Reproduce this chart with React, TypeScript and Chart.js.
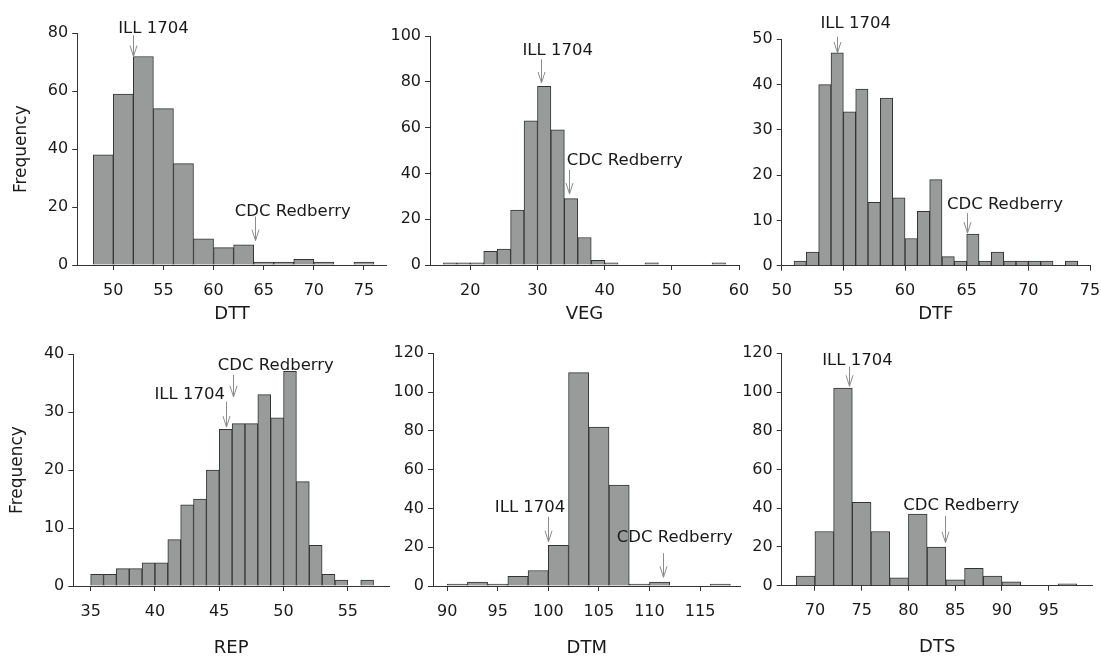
import { useEffect, useRef } from "react";
import { Chart, registerables } from "chart.js";
Chart.register(...registerables);

// ---------- data ----------
const dttCenters = [49, 51, 53, 55, 57, 59, 61, 63, 65, 67, 69, 71, 73, 75];
const dttCounts = [38, 59, 72, 54, 35, 9, 6, 7, 1, 1, 2, 1, 0, 1];
const dttXTicks = [50, 55, 60, 65, 70, 75];
const dttYTicks = [0, 20, 40, 60, 80];

const vegCenters = [17, 19, 21, 23, 25, 27, 29, 31, 33, 35, 37, 39, 41, 43, 45, 47, 49, 51, 53, 55, 57];
const vegCounts = [1, 1, 1, 6, 7, 24, 63, 78, 59, 29, 12, 2, 1, 0, 0, 1, 0, 0, 0, 0, 1];
const vegXTicks = [20, 30, 40, 50, 60];
const vegYTicks = [0, 20, 40, 60, 80, 100];

const dtfCenters = [51.5, 52.5, 53.5, 54.5, 55.5, 56.5, 57.5, 58.5, 59.5, 60.5, 61.5, 62.5, 63.5, 64.5, 65.5, 66.5, 67.5, 68.5, 69.5, 70.5, 71.5, 72.5, 73.5];
const dtfCounts = [1, 3, 40, 47, 34, 39, 14, 37, 15, 6, 12, 19, 2, 1, 7, 1, 3, 1, 1, 1, 1, 0, 1];
const dtfXTicks = [50, 55, 60, 65, 70, 75];
const dtfYTicks = [0, 10, 20, 30, 40, 50];

const repCenters = [35.5, 36.5, 37.5, 38.5, 39.5, 40.5, 41.5, 42.5, 43.5, 44.5, 45.5, 46.5, 47.5, 48.5, 49.5, 50.5, 51.5, 52.5, 53.5, 54.5, 55.5, 56.5];
const repCounts = [2, 2, 3, 3, 4, 4, 8, 14, 15, 20, 27, 28, 28, 33, 29, 37, 18, 7, 2, 1, 0, 1];
const repXTicks = [35, 40, 45, 50, 55];
const repYTicks = [0, 10, 20, 30, 40];

const dtmCenters = [91, 93, 95, 97, 99, 101, 103, 105, 107, 109, 111, 113, 115, 117];
const dtmCounts = [1, 2, 1, 5, 8, 21, 110, 82, 52, 1, 2, 0, 0, 1];
const dtmXTicks = [90, 95, 100, 105, 110, 115];
const dtmYTicks = [0, 20, 40, 60, 80, 100, 120];

const dtsCenters = [69, 71, 73, 75, 77, 79, 81, 83, 85, 87, 89, 91, 93, 95, 97];
const dtsCounts = [5, 28, 102, 43, 28, 4, 37, 20, 3, 9, 5, 2, 0, 0, 1];
const dtsXTicks = [70, 75, 80, 85, 90, 95];
const dtsYTicks = [0, 20, 40, 60, 80, 100, 120];

// annotation arrows: x = arrow x, tip = arrow tip value, top = arrow tail value, tx/ty = label anchor
type Note = { label: string; x: number; tip: number; top: number; tx: number; ty: number };
const dttNotes: Note[] = [
  { label: "ILL 1704", x: 52, tip: 72, top: 79.3, tx: 54, ty: 80 },
  { label: "CDC Redberry", x: 64.1, tip: 8.4, top: 16.7, tx: 67.9, ty: 16.9 },
];
const vegNotes: Note[] = [
  { label: "ILL 1704", x: 30.5, tip: 79.5, top: 89.8, tx: 33.0, ty: 91.7 },
  { label: "CDC Redberry", x: 34.7, tip: 31.0, top: 41.5, tx: 43.0, ty: 43.7 },
];
const dtfNotes: Note[] = [
  { label: "ILL 1704", x: 54.5, tip: 47, top: 50.6, tx: 56.0, ty: 52.4 },
  { label: "CDC Redberry", x: 65.05, tip: 7.2, top: 11.6, tx: 68.1, ty: 12.5 },
];
const repNotes: Note[] = [
  { label: "CDC Redberry", x: 46.1, tip: 32.6, top: 36.4, tx: 49.4, ty: 37.2 },
  { label: "ILL 1704", x: 45.5, tip: 27.4, top: 31.8, tx: 42.7, ty: 32.2 },
];
const dtmNotes: Note[] = [
  { label: "ILL 1704", x: 100.0, tip: 22.8, top: 35.7, tx: 98.2, ty: 38.0 },
  { label: "CDC Redberry", x: 111.3, tip: 4.5, top: 16.9, tx: 112.5, ty: 22.5 },
];
const dtsNotes: Note[] = [
  { label: "ILL 1704", x: 73.6, tip: 103.0, top: 113.1, tx: 74.55, ty: 114 },
  { label: "CDC Redberry", x: 83.9, tip: 22.2, top: 36.0, tx: 85.65, ty: 39.1 },
];

// ---------- layout / style ----------
const W = 1101;
const H = 656;
const Y_W = 60;
const X_H = 40;
const FONT = '"DejaVu Sans", "Liberation Sans", Arial, sans-serif';
const TEXT = "#1a1a1a";
const AXIS = "#333333";
const BAR_FILL = "#999b9b";
const BAR_EDGE = "#333333";
const ARROW = "#8c8c8c";

type Panel = {
  centers: number[];
  counts: number[];
  xTicks: number[];
  yTicks: number[];
  xTitle: string;
  yTitle?: string;
  notes: Note[];
  xMin: number;
  xMax: number;
  area: { l: number; r: number; t: number; b: number };
  titleDy: number;
};

const panels: Panel[] = [
  { centers: dttCenters, counts: dttCounts, xTicks: dttXTicks, yTicks: dttYTicks, xTitle: "DTT", yTitle: "Frequency", notes: dttNotes, xMin: 46.4, xMax: 77.3, area: { l: 77.2, r: 387, t: 33.3, b: 265 }, titleDy: 53.5 },
  { centers: vegCenters, counts: vegCounts, xTicks: vegXTicks, yTicks: vegYTicks, xTitle: "VEG", notes: vegNotes, xMin: 14, xMax: 60, area: { l: 430, r: 739, t: 36, b: 265 }, titleDy: 53.5 },
  { centers: dtfCenters, counts: dtfCounts, xTicks: dtfXTicks, yTicks: dtfYTicks, xTitle: "DTF", notes: dtfNotes, xMin: 50, xMax: 75, area: { l: 781.7, r: 1090, t: 39.3, b: 265.7 }, titleDy: 53.5 },
  { centers: repCenters, counts: repCounts, xTicks: repXTicks, yTicks: repYTicks, xTitle: "REP", yTitle: "Frequency", notes: repNotes, xMin: 33.65, xMax: 58.2, area: { l: 73.3, r: 389, t: 354, b: 586 }, titleDy: 66.5 },
  { centers: dtmCenters, counts: dtmCounts, xTicks: dtmXTicks, yTicks: dtmYTicks, xTitle: "DTM", notes: dtmNotes, xMin: 88.6, xMax: 119, area: { l: 433, r: 740.5, t: 353.3, b: 586 }, titleDy: 66.5 },
  { centers: dtsCenters, counts: dtsCounts, xTicks: dtsXTicks, yTicks: dtsYTicks, xTitle: "DTS", notes: dtsNotes, xMin: 66.45, xMax: 99.7, area: { l: 781.7, r: 1092.7, t: 353.3, b: 585.7 }, titleDy: 66.5 },
];

function makeChart(canvas: HTMLCanvasElement, p: Panel) {
  const counts = p.counts;
  const overlay = {
    id: "overlay",
    afterDraw(chart: any) {
      const ctx = chart.ctx as CanvasRenderingContext2D;
      const xs = chart.scales.x;
      const ys = chart.scales.y;
      const ca = chart.chartArea;
      ctx.save();
      for (const n of p.notes) {
        const x = Math.round(xs.getPixelForValue(n.x)) + 0.5;
        const tip = ys.getPixelForValue(n.tip);
        const top = ys.getPixelForValue(n.top);
        ctx.strokeStyle = ARROW;
        ctx.lineWidth = 1;
        ctx.beginPath();
        ctx.moveTo(x, top);
        ctx.lineTo(x, tip);
        ctx.moveTo(x - 3.5, tip - 11);
        ctx.lineTo(x, tip);
        ctx.lineTo(x + 3.5, tip - 11);
        ctx.stroke();
        ctx.fillStyle = TEXT;
        ctx.font = `16.5px ${FONT}`;
        ctx.textAlign = "center";
        ctx.textBaseline = "alphabetic";
        ctx.fillText(n.label, xs.getPixelForValue(n.tx), ys.getPixelForValue(n.ty));
      }
      ctx.fillStyle = TEXT;
      ctx.font = `18px ${FONT}`;
      ctx.textAlign = "center";
      ctx.textBaseline = "alphabetic";
      ctx.fillText(p.xTitle, (ca.left + ca.right) / 2, ca.bottom + p.titleDy);
      if (p.yTitle) {
        ctx.font = `17px ${FONT}`;
        ctx.textBaseline = "middle";
        ctx.translate(ca.left - 56, (ca.top + ca.bottom) / 2);
        ctx.rotate(-Math.PI / 2);
        ctx.fillText(p.yTitle, 0, 0);
      }
      ctx.restore();
    },
  };

  return new Chart(canvas, {
    type: "bar",
    data: {
      datasets: [
        {
          data: p.centers.map((x, i) => ({ x, y: counts[i] })) as any,
          backgroundColor: BAR_FILL,
          borderColor: BAR_EDGE,
          borderWidth: 1,
          borderSkipped: "start",
          barPercentage: 1,
          categoryPercentage: 1,
        } as any,
      ],
    },
    options: {
      responsive: false,
      animation: false,
      devicePixelRatio: 1,
      events: [],
      layout: {
        autoPadding: false,
        padding: { left: p.area.l - Y_W, right: W - p.area.r, top: p.area.t, bottom: H - p.area.b - X_H },
      },
      plugins: { legend: { display: false }, tooltip: { enabled: false }, title: { display: false } },
      scales: {
        x: {
          type: "linear",
          min: p.xMin,
          max: p.xMax,
          offset: false,
          grid: { offset: false, drawOnChartArea: false, drawTicks: true, tickLength: 5, color: AXIS },
          border: { display: true, color: AXIS, width: 1 },
          ticks: { font: { family: FONT, size: 16 }, color: TEXT, padding: 11, maxRotation: 0, autoSkip: false },
          afterBuildTicks: (s: any) => {
            s.ticks = p.xTicks.map((v) => ({ value: v }));
          },
          afterFit: (s: any) => {
            s.height = X_H;
            s.paddingLeft = 0;
            s.paddingRight = 0;
          },
        },
        y: {
          type: "linear",
          min: 0,
          max: p.yTicks[p.yTicks.length - 1],
          grid: { drawOnChartArea: false, drawTicks: true, tickLength: 5, color: AXIS },
          border: { display: true, color: AXIS, width: 1 },
          ticks: { font: { family: FONT, size: 16 }, color: TEXT, padding: 4, autoSkip: false },
          afterBuildTicks: (s: any) => {
            s.ticks = p.yTicks.map((v) => ({ value: v }));
          },
          afterFit: (s: any) => {
            s.width = Y_W;
            s.paddingTop = 0;
            s.paddingBottom = 0;
          },
        },
      },
    } as any,
    plugins: [overlay],
  });
}

function PanelCanvas({ p }: { p: Panel }) {
  const ref = useRef<HTMLCanvasElement | null>(null);
  useEffect(() => {
    if (!ref.current) return;
    const chart = makeChart(ref.current, p);
    return () => chart.destroy();
  }, [p]);
  return (
    <canvas
      ref={ref}
      width={W}
      height={H}
      style={{ position: "absolute", left: 0, top: 0, width: W, height: H }}
    />
  );
}

export default function App() {
  return (
    <div style={{ position: "absolute", left: 0, top: 0, width: W, height: H, background: "#ffffff", overflow: "hidden" }}>
      {panels.map((p, i) => (
        <PanelCanvas key={i} p={p} />
      ))}
    </div>
  );
}
